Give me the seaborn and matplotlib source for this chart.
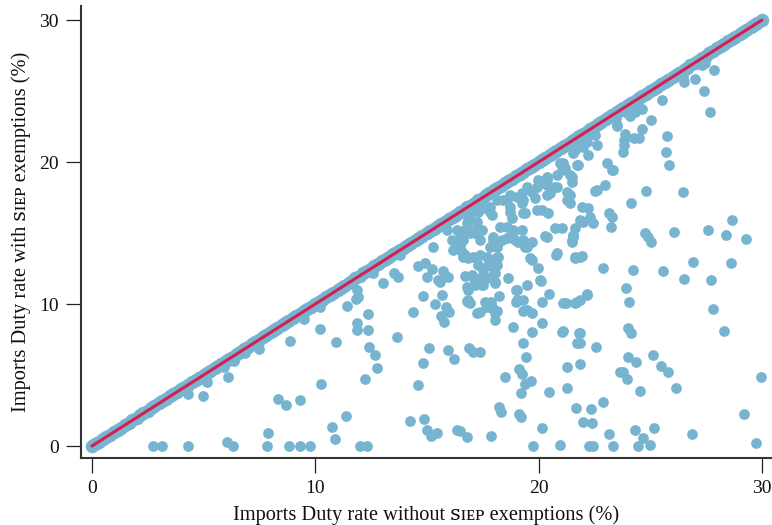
import matplotlib
matplotlib.use("Agg")
import matplotlib.pyplot as plt
import seaborn as sns
import pandas as pd

# Products whose duty rate is unchanged by the exemptions (rate with == rate without)
no_change_rate = [
    0, 0.15, 0.3, 0.5, 0.65, 0.8,
    1, 1.15, 1.3, 1.5, 1.65, 1.8,
    2, 2.15, 2.3, 2.5, 2.65, 2.8,
    3, 3.15, 3.3, 3.5, 3.65, 3.8,
    4, 4.15, 4.3, 4.5, 4.65, 4.8,
    5, 5.15, 5.3, 5.5, 5.65, 5.8,
    6, 6.15, 6.3, 6.5, 6.65, 6.8,
    7, 7.15, 7.3, 7.5, 7.65, 7.8,
    8, 8.15, 8.3, 8.5, 8.65, 8.8,
    9, 9.15, 9.3, 9.5, 9.65, 9.8,
    10, 10.15, 10.3, 10.5, 10.65, 10.8,
    11, 11.15, 11.3, 11.5, 11.65, 11.8,
    12, 12.15, 12.3, 12.5, 12.65, 12.8,
    13, 13.15, 13.3, 13.5, 13.65, 13.8,
    14, 14.15, 14.3, 14.5, 14.65, 14.8,
    15, 15.15, 15.3, 15.5, 15.65, 15.8,
    16, 16.15, 16.3, 16.5, 16.65, 16.8,
    17, 17.15, 17.3, 17.5, 17.65, 17.8,
    18, 18.15, 18.3, 18.5, 18.65, 18.8,
    19, 19.15, 19.3, 19.5, 19.65, 19.8,
    20, 20.15, 20.3, 20.5, 20.65, 20.8,
    21, 21.15, 21.3, 21.5, 21.65, 21.8,
    22, 22.15, 22.3, 22.5, 22.65, 22.8,
    23, 23.15, 23.3, 23.5, 23.65, 23.8,
    24, 24.15, 24.3, 24.5, 24.65, 24.8,
    25, 25.15, 25.3, 25.5, 25.65, 25.8,
    26, 26.15, 26.3, 26.5, 26.65, 26.8,
    27, 27.15, 27.3, 27.5, 27.65, 27.8,
    28, 28.15, 28.3, 28.5, 28.65, 28.8,
    29, 29.15, 29.3, 29.5, 29.65, 29.8,
    30,
]

# Products with a reduced rate: (rate without exemptions, rate with exemptions)
reduced_rate = [
    # fully exempted
    (2.73, 0), (3.13, 0), (4.30, 0), (6.05, 0.28), (6.31, 0), (7.84, 0),
    (8.82, 0), (9.31, 0), (9.76, 0), (12.00, 0), (12.31, 0), (19.75, 0),
    (20.96, 0.07), (22.26, 0), (22.43, 0), (23.33, 0), (24.45, 0),
    (24.99, 0.07), (29.73, 0.21),
    # low rates
    (7.88, 0.92), (10.75, 1.34), (10.88, 0.49), (11.37, 2.11),
    (14.24, 1.76), (14.87, 1.90), (15.00, 1.13), (15.18, 0.70),
    (15.45, 0.92), (16.35, 1.13), (16.79, 0.63), (16.48, 1.06),
    (17.87, 0.70), (18.23, 2.75), (18.32, 2.39), (19.12, 2.25),
    (19.21, 2.04), (20.15, 1.27), (21.67, 2.68), (22.35, 2.61),
    (21.99, 1.69), (22.39, 1.62), (23.15, 0.85), (24.31, 1.13),
    (25.17, 1.27), (24.67, 0.56), (26.87, 0.85), (29.19, 2.25),
    (8.33, 3.31), (8.69, 2.89), (9.31, 3.24), (4.30, 3.66), (4.97, 3.52),
    (22.88, 3.10), (24.54, 3.87), (26.15, 4.08),
    # middle band
    (5.15, 4.51), (6.09, 4.86), (5.91, 5.56), (6.36, 5.99), (6.85, 6.55),
    (7.48, 6.83), (8.87, 7.39), (9.49, 8.94), (10.21, 9.79), (10.21, 8.24),
    (10.25, 4.37), (11.42, 9.86), (11.82, 10.35), (11.87, 8.66),
    (11.87, 8.17), (12.36, 9.30), (12.36, 8.17), (10.93, 7.32),
    (12.40, 6.97), (12.67, 6.41), (12.76, 5.49), (12.23, 4.72),
    (13.66, 7.68), (14.38, 9.44), (14.82, 10.56), (15.36, 10.00),
    (15.67, 10.63), (15.85, 9.79), (15.99, 9.44), (15.63, 9.15),
    (15.76, 8.73), (16.79, 10.21), (15.09, 6.90), (15.94, 6.76),
    (16.21, 6.13), (16.88, 6.90), (14.82, 5.85), (14.60, 4.30),
    (17.06, 6.62), (17.37, 6.62), (19.43, 6.27), (19.12, 5.42),
    (19.26, 5.07), (19.66, 4.58), (19.39, 4.37), (19.21, 3.73),
    (18.49, 4.86), (21.27, 5.56), (21.85, 5.77), (20.47, 3.80),
    (21.27, 4.08), (23.64, 5.21), (22.57, 6.97),
    (18.85, 8.38), (20.15, 8.66), (19.70, 8.03), (21.05, 8.03),
    (21.85, 7.96), (21.85, 7.25), (19.30, 7.25), (21.09, 8.10),
    (21.72, 7.25),
    # dense cluster below the diagonal
    (11.87, 10.99), (11.91, 10.49), (13.03, 11.48), (13.52, 12.18),
    (13.70, 11.90), (12.58, 12.18), (13.79, 13.45), (14.60, 12.68),
    (14.91, 12.89), (15.23, 12.46), (15.00, 11.90), (15.49, 11.69),
    (15.72, 12.32), (15.94, 11.90), (15.27, 14.01), (16.35, 15.21),
    (16.12, 14.51), (16.35, 14.30), (16.17, 13.80), (16.48, 14.08),
    (16.61, 13.31), (16.70, 11.97), (16.79, 11.20), (15.90, 15.21),
    (16.84, 15.91), (16.70, 15.21), (16.48, 14.72), (13.93, 13.80),
    (15.58, 11.55), (17.02, 12.04), (17.15, 11.34), (17.46, 11.90),
    (16.84, 10.99), (17.51, 11.34), (17.96, 12.04), (18.05, 11.55),
    (17.96, 13.10), (17.73, 12.75), (18.14, 12.75), (16.84, 13.24),
    (16.84, 10.28), (16.93, 10.07), (17.24, 9.37), (17.38, 9.44),
    (17.60, 10.14), (17.69, 9.79), (17.91, 9.79), (18.05, 9.37),
    (18.23, 10.56), (18.05, 8.87), (18.63, 11.83), (19.03, 10.28),
    (19.03, 10.99), (19.48, 11.34), (19.30, 10.28), (19.48, 9.58),
    (19.70, 9.37), (19.70, 13.10), (19.97, 12.53), (20.06, 11.69),
    (20.47, 10.70), (18.58, 15.42), (18.85, 15.21), (19.26, 15.21),
    (18.58, 14.65), (18.94, 14.51), (19.30, 14.51), (19.70, 14.37),
    (19.48, 14.01), (17.96, 14.51), (18.14, 14.01), (18.18, 13.31),
    (17.46, 15.21), (17.15, 15.21), (16.93, 15.91), (17.29, 16.48),
    (17.82, 16.48), (18.72, 16.48), (18.58, 17.32), (18.72, 16.83),
    (19.30, 17.32), (19.39, 16.41), (19.84, 17.46), (20.15, 16.62),
    (20.42, 16.41), (20.37, 14.72), (20.73, 15.35), (21.05, 15.35),
    (20.82, 13.59), (21.49, 14.51), (21.54, 14.86), (21.85, 15.91),
    (22.21, 16.76), (22.30, 16.13), (22.43, 15.70), (22.61, 18.03),
    (21.40, 17.68), (21.27, 17.32), (21.49, 18.59), (21.49, 18.94),
    (21.05, 19.44), (21.09, 19.93), (21.72, 19.79), (22.21, 20.49),
    (21.54, 20.63), (20.06, 18.52), (20.37, 18.73), (20.82, 18.24),
    (20.51, 17.82), (20.15, 10.14), (21.09, 10.07), (21.63, 13.31),
    (21.85, 13.31), (22.17, 10.63), (21.72, 10.14),
    (23.51, 22.60), (22.53, 21.90), (22.61, 21.20), (22.17, 21.41),
    (21.99, 21.06), (21.63, 20.84), (21.76, 19.79), (20.96, 19.93),
    (21.18, 19.58), (21.40, 19.08), (20.82, 19.08), (20.73, 18.24),
    (20.37, 18.94), (20.37, 18.38), (19.97, 18.73), (19.93, 18.24),
    (19.70, 17.89), (19.48, 18.24), (19.26, 17.82), (19.03, 17.53),
    (18.72, 17.68), (18.41, 17.32), (18.14, 17.32), (17.82, 16.83),
    (17.51, 16.76), (17.24, 16.62), (16.93, 16.41), (21.27, 17.89),
    (21.40, 17.11), (21.94, 16.83), (23.06, 19.93), (23.29, 19.44),
    (22.97, 18.38), (22.53, 17.96), (23.15, 16.41), (23.29, 16.13),
    (23.24, 15.42), (21.99, 15.77), (21.63, 15.35), (21.54, 14.72),
    (21.49, 14.37), (20.28, 14.79), (19.39, 14.01), (19.08, 14.37),
    (18.85, 15.07), (18.36, 14.51), (18.14, 14.15), (17.96, 14.72),
    (17.82, 14.01), (17.69, 13.31), (17.38, 14.51), (17.15, 15.00),
    (16.93, 15.00), (16.79, 15.70), (16.61, 14.51), (16.57, 13.66),
    (17.06, 13.31), (18.27, 15.42), (18.81, 16.06), (19.30, 16.41),
    (19.93, 16.62), (19.26, 17.11), (17.91, 16.27), (17.24, 15.77),
    (19.61, 13.24), (20.37, 17.68),
    (16.70, 13.45), (17.38, 13.45), (18.14, 13.31), (20.78, 13.45),
    (21.63, 13.24), (21.94, 13.38), (22.88, 12.53), (17.29, 12.75),
    (17.51, 12.39), (17.96, 12.61), (18.05, 12.18), (17.06, 11.90),
    (17.69, 11.83), (18.05, 11.48), (17.15, 11.48), (17.46, 11.34),
    (16.84, 10.14), (17.87, 10.14), (17.91, 9.72), (18.14, 9.51),
    (18.99, 10.99), (20.11, 11.62), (18.99, 10.14), (19.30, 9.51),
    (21.22, 10.07), (21.63, 10.07), (21.85, 10.28), (22.17, 10.70),
    (21.81, 7.96),
    # upper right
    (27.45, 26.97), (27.31, 26.83), (27.85, 26.48), (27.00, 25.84),
    (26.51, 25.63), (26.46, 25.98), (27.40, 25.00), (25.52, 24.37),
    (27.67, 23.52), (24.63, 23.73), (24.31, 23.52), (24.09, 23.24),
    (23.96, 23.45), (25.03, 22.96), (23.47, 23.10), (23.51, 22.53),
    (24.63, 22.32), (23.87, 21.97), (23.82, 21.55), (23.82, 21.20),
    (23.78, 20.70), (24.27, 21.69), (24.50, 21.69), (25.75, 21.83),
    (25.70, 20.70), (25.84, 19.79), (23.33, 19.44), (24.81, 17.96),
    (26.46, 17.89), (24.14, 17.11), (24.76, 15.00), (24.90, 14.72),
    (25.03, 14.37), (26.06, 15.07), (27.58, 15.21), (28.66, 15.91),
    (28.39, 14.86), (29.29, 14.58), (24.23, 12.39), (25.57, 12.32),
    (26.91, 12.96), (28.62, 12.89), (26.51, 11.76), (27.72, 11.69),
    (23.91, 11.13), (24.05, 10.14), (27.81, 9.65), (24.00, 8.31),
    (24.14, 7.96), (28.30, 8.10), (24.00, 6.27), (24.36, 5.92),
    (25.12, 6.41), (25.48, 5.63), (25.79, 5.21), (23.78, 5.21),
    (23.96, 4.72), (29.96, 4.86),
]

# Equality reference line
ref_line_x = [0, 30]
ref_line_y = [0, 30]

tick_values = [0, 10, 20, 30]
tick_labels = ["0", "10", "20", "30"]

same_df = pd.DataFrame({"without": no_change_rate, "with": no_change_rate})
reduced_df = pd.DataFrame({"without": [p[0] for p in reduced_rate],
                           "with": [p[1] for p in reduced_rate]})

sns.set_style("ticks")
plt.rcParams["font.family"] = ["Liberation Serif", "DejaVu Serif", "DejaVu Sans"]

fig = plt.figure(figsize=(7.72, 5.25), dpi=100)
ax = fig.add_axes([81 / 772, 1 - 458 / 525, (772 - 81) / 772, (458 - 6) / 525])

point_color = "#77b4d0"
sns.scatterplot(data=reduced_df, x="without", y="with", ax=ax, color=point_color,
                s=60, linewidth=0, alpha=1, zorder=2, clip_on=False)
sns.scatterplot(data=same_df, x="without", y="with", ax=ax, color=point_color,
                s=95, linewidth=0, alpha=1, zorder=2, clip_on=False)
sns.lineplot(x=ref_line_x, y=ref_line_y, ax=ax, color="#d81d4f",
             linewidth=2.2, zorder=3, estimator=None)

ax.set_xlim(-0.49, 30.45)
ax.set_ylim(-0.845, 30.99)
ax.set_xticks(tick_values, tick_labels)
ax.set_yticks(tick_values, tick_labels)

for side in ("top", "right"):
    ax.spines[side].set_visible(False)
for side in ("left", "bottom"):
    ax.spines[side].set_linewidth(1.5)
    ax.spines[side].set_color("#333333")

ax.tick_params(axis="both", which="major", bottom=True, left=True,
               length=11, width=0.9, color="#222222",
               labelsize=14, labelcolor="#111111", pad=5, direction="out")

ax.set_xlabel("Imports Duty rate without \uA731\u026A\u1D07\u1D18 exemptions (%)",
              fontsize=14.7, color="#111111", labelpad=6)
ax.set_ylabel("Imports Duty rate with \uA731\u026A\u1D07\u1D18 exemptions (%)",
              fontsize=14.7, color="#111111", labelpad=6)
ax.grid(False)

fig.savefig("out.png", dpi=100)
